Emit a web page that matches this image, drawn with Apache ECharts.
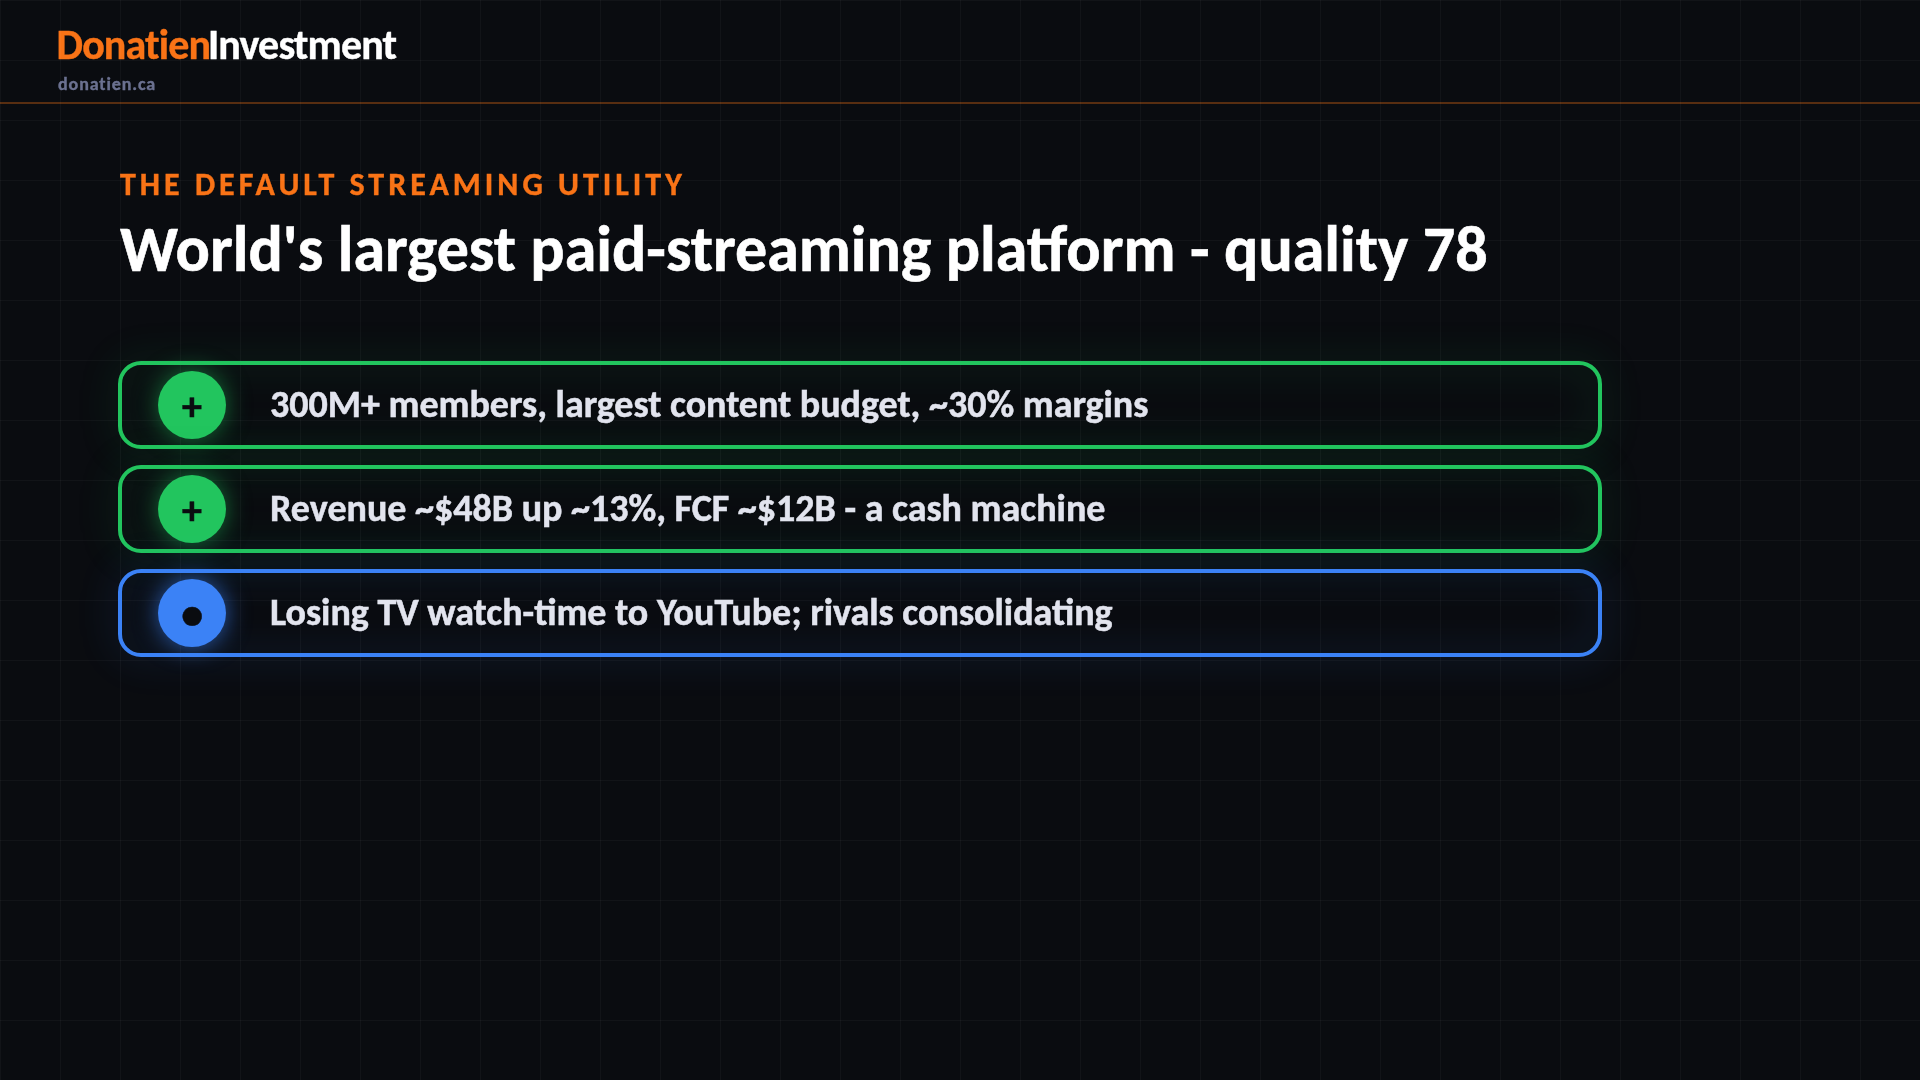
<!DOCTYPE html>
<html><head><meta charset="utf-8">
<style>html,body{margin:0;padding:0;background:#0a0c10}#c{width:1920px;height:1080px}</style>
<script src="https://cdn.jsdelivr.net/npm/echarts@6/dist/echarts.min.js"></script>
</head><body><div id="c"></div>
<script>
const brandLeft = 'Donatien';
const brandRight = 'Investment';
const site = 'donatien.ca';
const eyebrow = 'THE DEFAULT STREAMING UTILITY';
const headline = "World's largest paid-streaming platform - quality 78";
const rowTexts = [
  '300M+ members, largest content budget, ~30% margins',
  'Revenue ~$48B up ~13%, FCF ~$12B - a cash machine',
  'Losing TV watch-time to YouTube; rivals consolidating'
];
const rowKinds = ['plus', 'plus', 'neutral'];
const kindColor = { plus: '#22c55e', neutral: '#3b82f6' };
const kindGlow = { plus: 'rgba(34,197,94,0.42)', neutral: 'rgba(59,130,246,0.48)' };
const kindHalo = { plus: 'rgba(34,197,94,0.55)', neutral: 'rgba(59,130,246,0.7)' };
const kindMark = { plus: '+', neutral: '●' };

const FONT = 'Carlito, Calibri, Lato, sans-serif';
const spacing = { [eyebrow]: '4px', [brandLeft]: '-0.84px', [brandRight]: '-0.84px', [site]: '0.9px' };
const proto = CanvasRenderingContext2D.prototype;
['fillText', 'strokeText'].forEach(function (name) {
  const orig = proto[name];
  proto[name] = function (t, x, y, m) {
    this.letterSpacing = spacing[t] || '0px';
    return m === undefined ? orig.call(this, t, x, y) : orig.call(this, t, x, y, m);
  };
});

const chart = echarts.init(document.getElementById('c'), null, { renderer: 'canvas', width: 1920, height: 1080 });
const hidden = { axisLine: { show: false }, axisTick: { show: false }, axisLabel: { show: false } };
const lattice = { show: true, lineStyle: { color: 'rgba(255,255,255,0.035)', width: 1 } };

function renderRow(params, api) {
  const i = api.value(0);
  const kind = rowKinds[i];
  const color = kindColor[kind];
  const left = api.coord([0, i]);
  const right = api.coord([1, i]);
  const cy = left[1];
  const circleX = left[0] + 74;
  return {
    type: 'group',
    children: [
      { type: 'rect', shape: { x: left[0] + 2, y: cy - 42, width: right[0] - left[0] - 4, height: 84, r: 21 },
        style: { fill: 'none', stroke: color, lineWidth: 4, shadowColor: kindGlow[kind], shadowBlur: 36 } },
      { type: 'circle', shape: { cx: circleX, cy: cy, r: 34 },
        style: { fill: color, shadowColor: kindHalo[kind], shadowBlur: 24 } },
      { type: 'text', x: circleX, y: cy + 5, style: { text: kindMark[kind], fill: '#0a0c10', stroke: '#0a0c10', lineWidth: 0.5, font: '700 40px ' + FONT, align: 'center', verticalAlign: 'middle' } },
      { type: 'text', x: 270, y: cy + 2, style: { text: rowTexts[i], fill: '#e2e4ee', stroke: '#e2e4ee', lineWidth: 0.5, font: '700 38px ' + FONT, align: 'left', verticalAlign: 'middle' } }
    ]
  };
}

chart.setOption({
  animation: false,
  backgroundColor: '#0a0c10',
  grid: [
    { left: 0, top: 0, width: 1920, height: 1080 },
    { left: 118, top: 353, width: 1484, height: 312 }
  ],
  xAxis: [
    { type: 'value', gridIndex: 0, min: 0, max: 1920, interval: 60, splitLine: lattice, ...hidden },
    { type: 'value', gridIndex: 1, min: 0, max: 1, splitLine: { show: false }, ...hidden }
  ],
  yAxis: [
    { type: 'value', gridIndex: 0, min: 0, max: 1080, interval: 60, inverse: true, splitLine: lattice, ...hidden },
    { type: 'category', gridIndex: 1, inverse: true, data: rowTexts, splitLine: { show: false }, ...hidden }
  ],
  series: [{
    type: 'custom', xAxisIndex: 1, yAxisIndex: 1, clip: false,
    data: rowTexts.map((t, i) => [i]), encode: { y: 0 },
    renderItem: renderRow
  }],
  graphic: [
    { type: 'text', x: 56.5, y: 48, style: { text: brandLeft, fill: '#f97316', stroke: '#f97316', lineWidth: 0.4, font: '700 42px ' + FONT, verticalAlign: 'middle', shadowColor: 'rgba(249,115,22,0.75)', shadowBlur: 26 } },
    { type: 'text', x: 208, y: 48, style: { text: brandRight, fill: '#ffffff', stroke: '#ffffff', lineWidth: 0.4, font: '700 42px ' + FONT, verticalAlign: 'middle', shadowColor: 'rgba(249,115,22,0.75)', shadowBlur: 26 } },
    { type: 'text', x: 58, y: 85, style: { text: site, fill: '#6b7190', stroke: '#6b7190', lineWidth: 0.4, font: '700 18px ' + FONT, verticalAlign: 'middle' } },
    { type: 'rect', shape: { x: 0, y: 102, width: 1920, height: 2 }, style: { fill: 'rgba(249,115,22,0.33)' } },
    { type: 'text', x: 120, y: 187, style: { text: eyebrow, fill: '#f97316', stroke: '#f97316', lineWidth: 0.4, font: '700 32px ' + FONT, verticalAlign: 'middle' } },
    { type: 'text', x: 120, y: 255, style: { text: headline, fill: '#ffffff', stroke: '#ffffff', lineWidth: 0.6, font: '700 64px ' + FONT, verticalAlign: 'middle' } }
  ]
});
</script></body></html>
